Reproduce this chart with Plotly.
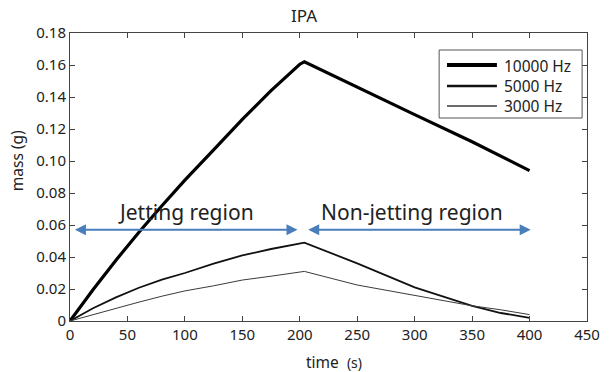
import plotly.graph_objects as go

time_s = [0, 20, 40, 60, 80, 100, 125, 150, 175, 200, 204, 250, 300, 350, 375, 400]
mass_10000 = [0, 0.0195, 0.038, 0.0555, 0.072, 0.088, 0.107, 0.126, 0.144, 0.1605, 0.162, 0.146, 0.129, 0.112, 0.103, 0.094]
mass_5000 = [0, 0.008, 0.0148, 0.0208, 0.0258, 0.030, 0.0358, 0.041, 0.045, 0.0485, 0.049, 0.036, 0.021, 0.0095, 0.005, 0.002]
mass_3000 = [0, 0.004, 0.008, 0.0118, 0.0155, 0.0188, 0.022, 0.0256, 0.028, 0.0302, 0.031, 0.0225, 0.016, 0.0095, 0.007, 0.004]

series_names = ["10000 Hz", "5000 Hz", "3000 Hz"]
series_widths = [3.2, 1.8, 1.0]
series_colors = ["#000000", "#111111", "#3a3a3a"]

x_ticks = [0, 50, 100, 150, 200, 250, 300, 350, 400, 450]
y_ticks = [0, 0.02, 0.04, 0.06, 0.08, 0.10, 0.12, 0.14, 0.16, 0.18]
y_ticktext = ["0", "0.02", "0.04", "0.06", "0.08", "0.10", "0.12", "0.14", "0.16", "0.18"]

region_labels = ["Jetting region", "Non-jetting region"]
region_spans = [(3, 198), (206, 401)]
region_label_x = [101, 298]
arrow_y = 0.057
label_y = 0.068

FONT = "Noto Sans"
TXT = "#222222"

# plot area in pixels
L, R, T, B = 70, 598, 33, 321
W, H = 612, 372


def px(x):
    return (x - L) / (R - L)


def py(y):
    return (B - y) / (B - T)


fig = go.Figure()
for name, ys, w, c in zip(series_names, [mass_10000, mass_5000, mass_3000], series_widths, series_colors):
    fig.add_trace(go.Scatter(x=time_s, y=ys, mode="lines", name=name,
                             line=dict(color=c, width=w), showlegend=False))

for (x0, x1), lab, lx in zip(region_spans, region_labels, region_label_x):
    fig.add_annotation(x=x1, y=arrow_y, ax=x0, ay=arrow_y, xref="x", yref="y",
                       axref="x", ayref="y", text="", showarrow=True,
                       arrowhead=2, arrowside="end+start", arrowsize=1.1,
                       arrowwidth=2, arrowcolor="#4a7ebb")
    fig.add_annotation(x=lx, y=label_y, xref="x", yref="y", text=lab, showarrow=False,
                       font=dict(family=FONT, size=21, color=TXT))

# manual legend (box, line samples, labels)
shapes = [dict(type="rect", xref="paper", yref="paper", x0=px(447), x1=px(593),
               y0=py(118), y1=py(50), line=dict(color="#555555", width=1),
               fillcolor="white", layer="above")]
leg_rows = [65, 86, 106]
for w, c, ry in zip(series_widths, series_colors, leg_rows):
    shapes.append(dict(type="line", xref="paper", yref="paper", x0=px(455), x1=px(506),
                       y0=py(ry), y1=py(ry), line=dict(color=c, width=w + 0.6), layer="above"))
fig.add_annotation(x=px(511), y=py(86), xref="paper", yref="paper",
                   text="<br>".join(series_names), showarrow=False, xanchor="left",
                   yanchor="middle", align="left",
                   font=dict(family=FONT, size=15.5, color=TXT))

# title and axis titles
fig.add_annotation(x=px(309), y=py(15), xref="paper", yref="paper", text="IPA",
                   showarrow=False, xanchor="center", yanchor="middle",
                   font=dict(family=FONT, size=17, color=TXT))
fig.add_annotation(x=px(340), y=py(362), xref="paper", yref="paper",
                   text="time  <span style='font-size:14px'>(s)</span>",
                   showarrow=False, xanchor="center", yanchor="middle",
                   font=dict(family=FONT, size=15.5, color=TXT))
fig.add_annotation(x=px(16), y=py(161), xref="paper", yref="paper", text="mass (g)",
                   showarrow=False, xanchor="center", yanchor="middle", textangle=-90,
                   font=dict(family=FONT, size=15.5, color=TXT))

fig.update_layout(
    width=W, height=H,
    margin=dict(l=L, r=W - R, t=T, b=H - B),
    paper_bgcolor="white", plot_bgcolor="white",
    font=dict(family=FONT, size=15, color=TXT),
    showlegend=False,
    shapes=shapes,
)
fig.update_xaxes(range=[0, 450], tickvals=x_ticks, ticks="inside", ticklen=5,
                 showline=True, linecolor="#444444", linewidth=1, mirror="ticks",
                 showgrid=False, zeroline=False, tickfont=dict(size=15))
fig.update_yaxes(range=[0, 0.18], tickvals=y_ticks, ticktext=y_ticktext, ticks="inside",
                 ticklen=5, showline=True, linecolor="#444444", linewidth=1, mirror="ticks",
                 showgrid=False, zeroline=False, tickfont=dict(size=15))

fig.write_html("out.html")
